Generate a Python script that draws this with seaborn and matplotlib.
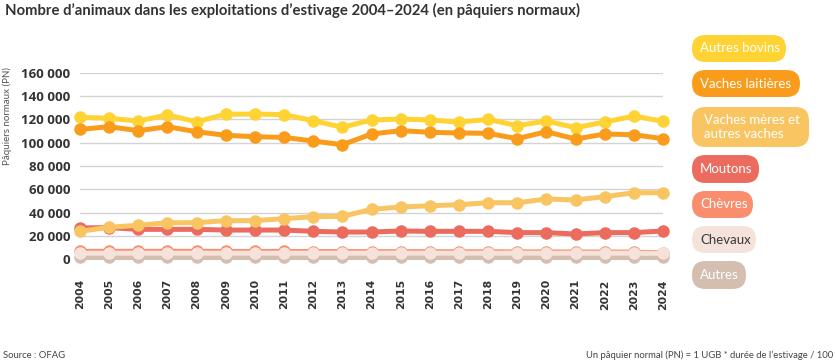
import matplotlib
matplotlib.use("Agg")
import matplotlib.pyplot as plt
import numpy as np
import pandas as pd
import seaborn as sns
from matplotlib.patches import FancyBboxPatch
from matplotlib.transforms import IdentityTransform

# ---------------- data ----------------
years = list(range(2004, 2025))
autres_bovins = [121900, 121000, 118700, 123900, 118100, 124500, 124700, 124200, 119000, 113300,
                 119600, 120400, 119600, 117800, 120100, 114700, 118700, 113000, 117800, 123000, 118400]
vaches_laitieres = [111500, 113800, 110400, 113800, 109500, 106400, 105200, 104600, 101500, 98300,
                    107500, 110400, 109000, 108400, 108100, 103500, 109500, 103200, 107500, 106900, 103500]
vaches_meres = [23800, 27300, 29000, 31200, 31200, 33000, 33000, 34700, 36400, 36700,
                42700, 44700, 45800, 46700, 48400, 48400, 51600, 50800, 53600, 57000, 57000]
moutons = [26700, 27000, 25500, 25500, 25500, 24900, 24900, 24900, 23800, 23200,
           23200, 24100, 23800, 23800, 23800, 22700, 22700, 21500, 22700, 22700, 24100]
chevres = [6600, 6600, 6600, 6600, 6600, 6500, 6500, 6500, 6400, 6400,
           6300, 6300, 6300, 6200, 6200, 6100, 6100, 6000, 6000, 5900, 5300]
chevaux = [5000, 5000, 5000, 5000, 5000, 5000, 5000, 5000, 5000, 5000,
           5000, 5000, 5000, 5000, 5000, 5000, 5000, 5000, 5000, 5000, 4800]
autres = [1600, 1600, 1600, 1600, 1600, 1600, 1600, 1600, 1600, 1600,
          1600, 1600, 1600, 1600, 1600, 1600, 1600, 1600, 1600, 1600, 1600]

categories = ["Autres bovins", "Vaches laitières", "Vaches mères et\nautres vaches",
              "Moutons", "Chèvres", "Chevaux", "Autres"]
series = [autres_bovins, vaches_laitieres, vaches_meres, moutons, chevres, chevaux, autres]
colors = ["#FFD333", "#F99C1B", "#F9C563", "#EB6B5F", "#F88E6E", "#F5E2DB", "#D3BEAF"]
text_colors = ["white", "white", "white", "white", "white", "#3a3a3a", "white"]
y_ticks = [0, 20000, 40000, 60000, 80000, 100000, 120000, 140000, 160000]
y_tick_labels = ["0", "20 000", "40 000", "60 000", "80 000", "100 000", "120 000", "140 000", "160 000"]

title = "Nombre d\u2019animaux dans les exploitations d\u2019estivage 2004\u20132024 (en pâquiers normaux)"
ylabel = "Pâquiers normaux (PN)"
source = "Source : OFAG"
note = "Un pâquier normal (PN) = 1 UGB * durée de l\u2019estivage / 100"

df = pd.DataFrame({
    "Année": np.tile(years, len(categories)),
    "PN": np.concatenate(series),
    "Catégorie": np.repeat(categories, len(years)),
})
palette = dict(zip(categories, colors))
draw_order = ["Autres", "Chèvres", "Chevaux", "Moutons", "Vaches mères et\nautres vaches",
              "Autres bovins", "Vaches laitières"]

# ---------------- figure ----------------
sns.set_theme(style="white")
W, H = 836, 364
fig = plt.figure(figsize=(W / 100, H / 100), dpi=100)
fig.patch.set_facecolor("white")

narrow = ["Lato", "DejaVu Sans"]

ax = fig.add_axes([80 / W, (H - 259) / H, (663 - 80) / W, (259 - 73) / H])
ax.set_facecolor("white")
for y in y_ticks:
    ax.axhline(y, color="#d4d4d4", lw=1.0, zorder=0)

sns.lineplot(data=df, x="Année", y="PN", hue="Catégorie", hue_order=draw_order,
             palette=palette, marker="o", markersize=9, linewidth=3.6,
             markeredgewidth=0, legend=False, ax=ax, clip_on=False, zorder=3)

ax.set_xlim(2004, 2024)
ax.set_ylim(0, 160000)
ax.set_xticks(years)
ax.set_xticklabels([str(y) for y in years], rotation=90, fontsize=7.8,
                   fontweight="bold", color="#333333", family="DejaVu Sans")
ax.set_yticks(y_ticks)
ax.set_yticklabels(y_tick_labels, fontsize=9.5, fontweight="bold", color="#333333",
                   family=["Open Sans", "DejaVu Sans"])
ax.tick_params(axis="x", length=0, pad=14.5)
ax.tick_params(axis="y", length=0, pad=7)
ax.set_xlabel("")
ax.set_ylabel("")
ax.grid(False)
for s in ax.spines.values():
    s.set_visible(False)

# titles / texts
fig.text(5 / W, 1 - 10 / H, title, ha="left", va="center", fontsize=10.75,
         fontweight="bold", color="#333333", family=narrow)
fig.text(7 / W, 1 - 116 / H, ylabel, rotation=90, ha="center", va="center",
         fontsize=7, color="#555555", family=narrow)
fig.text(3 / W, 1 - 355 / H, source, ha="left", va="center", fontsize=6.8,
         color="#444444", family=narrow)
fig.text(833 / W, 1 - 355 / H, note, ha="right", va="center", fontsize=6.8,
         color="#444444", family=narrow)

# legend pills (x0, x1, y0, y1 in image pixels)
boxes = [(692, 786, 35, 62), (692, 800, 70, 97), (692, 809, 107, 147),
         (692, 759, 155, 183), (692, 753, 191, 218), (692, 756, 226, 253),
         (692, 746, 261, 289)]
for cat, col, tc, (x0, x1, y0, y1) in zip(categories, colors, text_colors, boxes):
    h = y1 - y0
    r = min(h / 2, 13.5)
    patch = FancyBboxPatch((x0, H - y1), x1 - x0, h,
                           boxstyle=f"round,pad=0,rounding_size={r}",
                           transform=IdentityTransform(), fc=col, ec="none")
    fig.add_artist(patch)
    tx = 704 if "\n" in cat else 700
    fig.text(tx / W, 1 - (y0 + y1) / 2 / H, cat, ha="left", va="center",
             fontsize=9.5, color=tc, family=narrow, linespacing=1.15)

fig.savefig("out.png", dpi=100, facecolor="white")
